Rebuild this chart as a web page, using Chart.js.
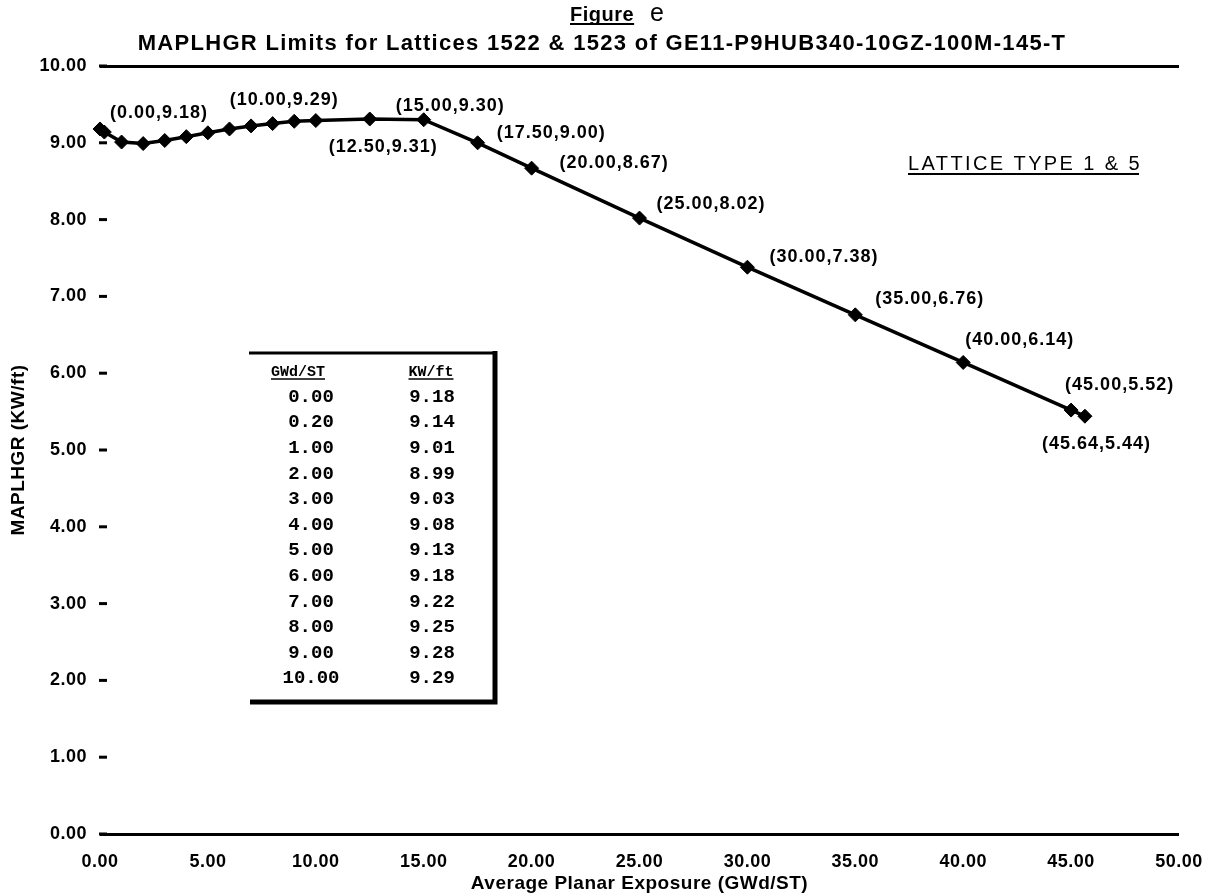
<!DOCTYPE html>
<html>
<head>
<meta charset="utf-8">
<script src="https://cdn.jsdelivr.net/npm/chart.js@4"></script>
<style>
  html, body { margin: 0; padding: 0; background: #fff; }
  #wrap { width: 1208px; height: 896px; }
</style>
</head>
<body>
<div id="wrap"><canvas id="grafico"></canvas></div>
<script>
// dados
const exposure = [0.00, 0.20, 1.00, 2.00, 3.00, 4.00, 5.00, 6.00, 7.00, 8.00, 9.00, 10.00, 12.50, 15.00, 17.50, 20.00, 25.00, 30.00, 35.00, 40.00, 45.00, 45.64];
const limitKW = [9.18, 9.14, 9.01, 8.99, 9.03, 9.08, 9.13, 9.18, 9.22, 9.25, 9.28, 9.29, 9.31, 9.30, 9.00, 8.67, 8.02, 7.38, 6.76, 6.14, 5.52, 5.44];
const labelledPoints = [0, 11, 12, 13, 14, 15, 16, 17, 18, 19, 20, 21];
const tableRows = 12; // primeiras linhas mostradas na tabela
const xTicks = [0, 5, 10, 15, 20, 25, 30, 35, 40, 45, 50];
const yTicks = [0, 1, 2, 3, 4, 5, 6, 7, 8, 9, 10];

const chartTitle = 'MAPLHGR Limits for Lattices 1522 & 1523 of GE11-P9HUB340-10GZ-100M-145-T';
const latticeNote = 'LATTICE TYPE 1 & 5';

// deslocamento (px) de cada rotulo em relacao ao ponto
const labelOffsets = [[10, -16], [-86, -20], [-41, 28], [-28, -14], [19, -10], [28, -5], [17, -14], [22, -10], [20, -16], [2, -22], [-6, -25], [-43, 28]];

const SANS = '"Liberation Sans", Arial, sans-serif';
const MONO = '"Liberation Mono", "Courier New", monospace';

function underline(ctx, x0, x1, y, lw) {
  ctx.lineWidth = lw;
  ctx.beginPath();
  ctx.moveTo(x0, y);
  ctx.lineTo(x1, y);
  ctx.stroke();
}

const extras = {
  id: 'extras',
  beforeDraw(chart) {
    chart.ctx.letterSpacing = '0.5px';
  },
  afterDraw(chart) {
    const ctx = chart.ctx;
    const ys = chart.scales.y;
    const left = chart.chartArea.left;
    ctx.save();
    ctx.fillStyle = '#000';
    ctx.strokeStyle = '#000';

    // pequenos tracos dos ticks do eixo Y
    yTicks.forEach(v => {
      const py = ys.getPixelForValue(v);
      underline(ctx, left - 1, left + 7, py, 3);
    });

    // rotulos dos pontos
    const meta = chart.getDatasetMeta(0);
    ctx.font = 'bold 18px ' + SANS;
    ctx.letterSpacing = '1px';
    ctx.textAlign = 'left';
    ctx.textBaseline = 'middle';
    labelledPoints.forEach((i, k) => {
      const pt = meta.data[i];
      const txt = '(' + exposure[i].toFixed(2) + ',' + limitKW[i].toFixed(2) + ')';
      ctx.fillText(txt, pt.x + labelOffsets[k][0], pt.y + labelOffsets[k][1]);
    });

    // titulo
    ctx.textAlign = 'center';
    ctx.font = 'bold 22px ' + SANS;
    ctx.letterSpacing = '1.3px';
    ctx.fillText(chartTitle, 602, 44);

    // "Figure e"
    ctx.textAlign = 'left';
    ctx.textBaseline = 'alphabetic';
    ctx.font = 'bold 20px ' + SANS;
    ctx.letterSpacing = '0.5px';
    ctx.fillText('Figure', 570, 21);
    let w = ctx.measureText('Figure').width;
    underline(ctx, 570, 570 + w, 24, 2);
    ctx.font = '25px ' + SANS;
    ctx.letterSpacing = '0px';
    ctx.fillText('e', 650, 21);

    // LATTICE TYPE 1 & 5
    ctx.font = '20px ' + SANS;
    ctx.letterSpacing = '2.4px';
    ctx.fillText(latticeNote, 908, 170);
    w = ctx.measureText(latticeNote).width;
    underline(ctx, 908, 908 + w - 3, 174, 2);

    // tabela
    underline(ctx, 249, 495, 353, 3);
    ctx.lineWidth = 5;
    ctx.beginPath(); ctx.moveTo(495, 351); ctx.lineTo(495, 702); ctx.lineTo(250, 702); ctx.stroke();
    ctx.textAlign = 'center';
    ctx.letterSpacing = '0px';
    ctx.font = 'bold 15px ' + MONO;
    [[298, 'GWd/ST'], [431, 'KW/ft']].forEach(([cx, t]) => {
      ctx.fillText(t, cx, 376);
      const tw = ctx.measureText(t).width;
      underline(ctx, cx - tw / 2, cx + tw / 2, 379, 1.5);
    });
    ctx.font = 'bold 19px ' + MONO;
    ctx.textBaseline = 'middle';
    for (let i = 0; i < tableRows; i++) {
      const ry = 397 + i * 25.6;
      ctx.fillText(exposure[i].toFixed(2), 311, ry);
      ctx.fillText(limitKW[i].toFixed(2), 432, ry);
    }
    ctx.restore();
  }
};

const ctx = document.getElementById('grafico').getContext('2d');
new Chart(ctx, {
  type: 'line',
  data: {
    datasets: [{
      data: exposure.map((x, i) => ({ x: x, y: limitKW[i] })),
      borderColor: '#000',
      backgroundColor: '#000',
      borderWidth: 3.5,
      pointStyle: 'rectRot',
      pointRadius: 7,
      pointBorderWidth: 1,
      tension: 0,
      clip: false
    }]
  },
  options: {
    responsive: true,
    maintainAspectRatio: false,
    animation: false,
    layout: { padding: { left: 0, right: 29, top: 66, bottom: 0 } },
    plugins: {
      legend: { display: false },
      tooltip: { enabled: false },
      title: { display: false }
    },
    scales: {
      x: {
        type: 'linear',
        min: 0,
        max: 50,
        afterBuildTicks: s => { s.ticks = xTicks.map(v => ({ value: v })); },
        afterFit: s => { s.height = 62; s.paddingLeft = 0; s.paddingRight = 0; },
        grid: { display: false, drawTicks: false },
        border: { display: false },
        ticks: {
          color: '#000',
          padding: 17,
          maxRotation: 0,
          font: { family: SANS, size: 18, weight: 'bold' },
          callback: v => Number(v).toFixed(2)
        },
        title: {
          display: true,
          text: 'Average Planar Exposure (GWd/ST)',
          color: '#000',
          font: { family: SANS, size: 19, weight: 'bold' },
          padding: { top: 0, bottom: 1 }
        }
      },
      y: {
        min: 0,
        max: 10,
        afterBuildTicks: s => { s.ticks = yTicks.map(v => ({ value: v })); },
        afterFit: s => { s.width = 100; },
        border: { display: false },
        grid: {
          drawTicks: false,
          lineWidth: 3,
          color: c => (c.tick && (c.tick.value === 0 || c.tick.value === 10)) ? '#000' : 'rgba(0,0,0,0)'
        },
        ticks: {
          color: '#000',
          padding: 13,
          font: { family: SANS, size: 18, weight: 'bold' },
          callback: v => Number(v).toFixed(2)
        },
        title: {
          display: true,
          text: 'MAPLHGR (KW/ft)',
          color: '#000',
          font: { family: SANS, size: 19, weight: 'bold' },
          padding: { top: 7, bottom: 0 }
        }
      }
    }
  },
  plugins: [extras]
});
</script>
</body>
</html>
